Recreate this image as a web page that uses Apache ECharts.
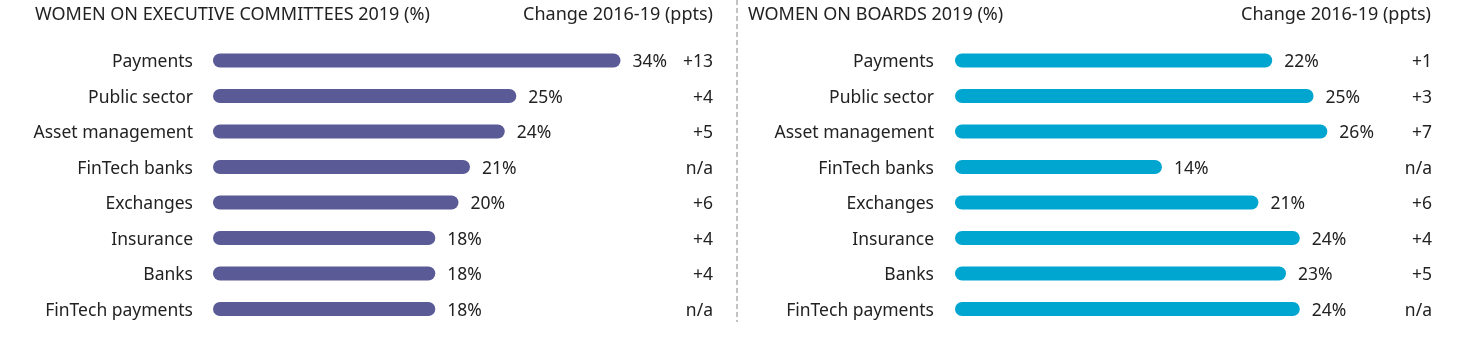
<!DOCTYPE html>
<html>
<head>
<meta charset="utf-8">
<title>Women in financial services</title>
<style>
  html, body { margin: 0; padding: 0; background: #fff; }
  #chart { width: 1460px; height: 354px; }
</style>
</head>
<body>
<div id="chart"></div>
<script src="https://cdn.jsdelivr.net/npm/echarts@6/dist/echarts.min.js"></script>
<script>
var categories = ['Payments', 'Public sector', 'Asset management', 'FinTech banks',
                  'Exchanges', 'Insurance', 'Banks', 'FinTech payments'];
var execValues = [34, 25, 24, 21, 20, 18, 18, 18];
var execChange = ['+13', '+4', '+5', 'n/a', '+6', '+4', '+4', 'n/a'];
var boardValues = [22, 25, 26, 14, 21, 24, 23, 24];
var boardChange = ['+1', '+3', '+7', 'n/a', '+6', '+4', '+5', 'n/a'];

var FONT = '"Noto Sans", sans-serif';
var INK = '#222';
var SIZE = 17.5;

// rounded bar that overhangs the value by its radius, plus the % label
function capsule(color) {
  return function (params, api) {
    var v = api.value(0);
    var i = api.value(1);
    var a = api.coord([0, i]);
    var b = api.coord([v, i]);
    var r = 7;
    return {
      type: 'group',
      children: [
        { type: 'rect',
          shape: { x: a[0] - r, y: a[1] - r, width: b[0] - a[0] + 2 * r, height: 2 * r, r: r },
          style: { fill: color } },
        { type: 'text',
          style: { text: v + '%', x: b[0] + r + 12, y: b[1] + 2, verticalAlign: 'middle',
                   fill: INK, fontSize: SIZE, fontFamily: FONT } }
      ]
    };
  };
}

// rich text with a top pad nudges the label down onto the bar's centre
var labelRich = { t: { fontSize: SIZE, color: INK, fontFamily: FONT, padding: [4, 0, 0, 0] } };

function catAxis(grid, data, margin) {
  return {
    gridIndex: grid, type: 'category', data: data, inverse: true,
    axisLine: { show: false }, axisTick: { show: false }, splitLine: { show: false },
    axisLabel: { margin: margin, formatter: '{t|{value}}', rich: labelRich }
  };
}
function changeAxis(grid, data) {
  return {
    gridIndex: grid, type: 'category', data: data, inverse: true, position: 'right',
    axisLine: { show: false }, axisTick: { show: false }, splitLine: { show: false },
    axisLabel: { inside: true, margin: 0, formatter: '{t|{value}}', rich: labelRich }
  };
}

var headStyle = { fontSize: 18, fontWeight: 'normal', color: INK, fontFamily: FONT };

var chart = echarts.init(document.getElementById('chart'));
chart.setOption({
  animation: false,
  textStyle: { fontFamily: FONT },
  title: [
    { text: 'WOMEN ON EXECUTIVE COMMITTEES 2019 (%)', left: 35, top: 6, padding: 0, textStyle: headStyle },
    { text: 'Change 2016-19 (ppts)', right: 747, top: 6, padding: 0, textStyle: headStyle },
    { text: 'WOMEN ON BOARDS 2019 (%)', left: 748, top: 6, padding: 0, textStyle: headStyle },
    { text: 'Change 2016-19 (ppts)', right: 29, top: 6, padding: 0, textStyle: headStyle }
  ],
  grid: [
    { left: 220, right: 747, top: 42.75, height: 284 },
    { left: 962, right: 28, top: 42.75, height: 284 }
  ],
  xAxis: [
    { gridIndex: 0, type: 'value', min: 0, max: 42.6, show: false },
    { gridIndex: 1, type: 'value', min: 0, max: 34.1, show: false }
  ],
  yAxis: [
    catAxis(0, categories, 27),
    changeAxis(0, execChange),
    catAxis(1, categories, 28),
    changeAxis(1, boardChange)
  ],
  graphic: [
    { type: 'line', shape: { x1: 737, y1: 0, x2: 737, y2: 322 },
      style: { stroke: '#b0b0b0', lineWidth: 1.5, lineDash: [5, 3] } }
  ],
  series: [
    { type: 'custom', xAxisIndex: 0, yAxisIndex: 0, encode: { x: 0, y: 1 },
      renderItem: capsule('#5a5a96'),
      data: execValues.map(function (v, i) { return [v, i]; }) },
    { type: 'custom', xAxisIndex: 1, yAxisIndex: 2, encode: { x: 0, y: 1 },
      renderItem: capsule('#00a6cf'),
      data: boardValues.map(function (v, i) { return [v, i]; }) }
  ]
});
</script>
</body>
</html>
